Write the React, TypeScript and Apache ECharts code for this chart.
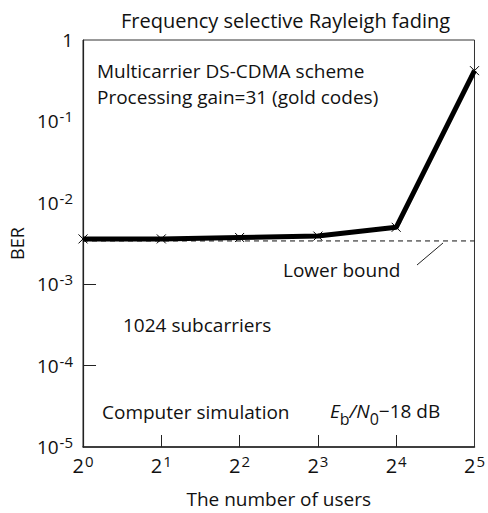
import React, { useEffect, useRef } from "react";
import * as echarts from "echarts";

const users = [1, 2, 4, 8, 16, 32];
const berSim = [3.6e-3, 3.6e-3, 3.75e-3, 3.9e-3, 5.0e-3, 0.42];
const lowerBoundX = [1, 32];
const lowerBoundY = [3.4e-3, 3.4e-3];
const xTickLabels = ["2{s|0}", "2{s|1}", "2{s|2}", "2{s|3}", "2{s|4}", "2{s|5}"];
const yTickLabels: Record<string, string> = {
  "1": "1",
  "0.1": "10{s|-1}",
  "0.01": "10{s|-2}",
  "0.001": "10{s|-3}",
  "0.0001": "10{s|-4}",
  "0.00001": "10{s|-5}",
};

const FONT = "Open Sans";

export default function App() {
  const ref = useRef<HTMLDivElement>(null);
  useEffect(() => {
    const chart = echarts.init(ref.current!, null, { renderer: "svg" });
    const ts = { fontFamily: FONT, fontSize: 19, fill: "#111", verticalAlign: "middle" };
    chart.setOption({
      animation: false,
      backgroundColor: "#fff",
      title: {
        text: "Frequency selective Rayleigh fading",
        left: 116,
        top: 5,
        textStyle: { fontFamily: FONT, fontSize: 20, fontWeight: "normal", color: "#111" },
      },
      grid: {
        left: 75,
        right: 9,
        top: 40,
        bottom: 64,
        show: true,
        borderColor: "#333",
        borderWidth: 1,
        backgroundColor: "transparent",
      },
      xAxis: {
        type: "log",
        logBase: 2,
        min: 1,
        max: 32,
        name: "The number of users",
        nameLocation: "middle",
        nameGap: 42,
        nameTextStyle: { fontFamily: FONT, fontSize: 19, color: "#111" },
        axisLine: { show: true, lineStyle: { color: "#222", width: 1.5 } },
        axisTick: { show: true, inside: true, length: 12, lineStyle: { color: "#222" }, customValues: [2, 4, 8, 16] },
        splitLine: { show: false },
        axisLabel: {
          margin: 6,
          fontFamily: FONT,
          fontSize: 20,
          color: "#111",
          formatter: (v: number) => xTickLabels[Math.round(Math.log2(v))],
          rich: { s: { fontFamily: FONT, fontSize: 15, verticalAlign: "top", color: "#111", padding: [0, 0, 10, 1] } },
        },
      },
      yAxis: {
        type: "log",
        min: 1e-5,
        max: 1,
        name: "BER",
        nameLocation: "middle",
        nameGap: 55,
        nameTextStyle: { fontFamily: FONT, fontSize: 18, color: "#111" },
        axisLine: { show: true, lineStyle: { color: "#222", width: 1.2 } },
        axisTick: { show: true, inside: true, length: 13, lineStyle: { color: "#222" }, customValues: [1e-3, 1e-4] },
        splitLine: { show: false },
        axisLabel: {
          margin: 10,
          fontFamily: FONT,
          fontSize: 19,
          color: "#111",
          formatter: (v: number) => {
            const k = String(Number(v.toPrecision(3)));
            return yTickLabels[k] ?? "";
          },
          rich: { s: { fontFamily: FONT, fontSize: 15, verticalAlign: "top", color: "#111", padding: [0, 0, 10, 1] } },
        },
      },
      series: [
        {
          type: "line",
          data: lowerBoundX.map((x, i) => [x, lowerBoundY[i]]),
          symbol: "none",
          lineStyle: { color: "#111", width: 1, type: [5, 4] },
          z: 1,
        },
        {
          type: "line",
          data: users.map((x, i) => [x, berSim[i]]),
          symbol: "path://M0,0L10,10M10,0L0,10",
          symbolSize: 9,
          showSymbol: true,
          itemStyle: { color: "none", borderColor: "#000", borderWidth: 1 },
          lineStyle: { color: "#000", width: 5 },
          z: 2,
        },
      ],
      graphic: [
        { type: "text", x: 97, y: 71, style: { ...ts, text: "Multicarrier DS-CDMA scheme" } },
        { type: "text", x: 97, y: 97, style: { ...ts, text: "Processing gain=31 (gold codes)" } },
        { type: "text", x: 283, y: 270, style: { ...ts, text: "Lower bound" } },
        { type: "line", shape: { x1: 417, y1: 265, x2: 443, y2: 243 }, style: { stroke: "#222", lineWidth: 1 } },
        { type: "text", x: 123, y: 325, style: { ...ts, text: "1024 subcarriers" } },
        { type: "text", x: 102, y: 412, style: { ...ts, text: "Computer simulation" } },
        {
          type: "text",
          x: 330,
          y: 414,
          style: {
            ...ts,
            text: "{i|E}{sub|b}{i|/N}{sub|0}{n|−18 dB}",
            rich: {
              i: { fontFamily: FONT, fontSize: 19, fontStyle: "italic", fill: "#111", verticalAlign: "bottom", padding: [0, 0, 6, 0] },
              sub: { fontFamily: FONT, fontSize: 16, fill: "#111", verticalAlign: "bottom" },
              n: { fontFamily: FONT, fontSize: 19, fill: "#111", verticalAlign: "bottom", padding: [0, 0, 6, 0] },
            },
          },
        },
      ],
    });
    return () => chart.dispose();
  }, []);
  return <div ref={ref} style={{ width: 488, height: 513, position: "absolute", left: 0, top: 0 }} />;
}
